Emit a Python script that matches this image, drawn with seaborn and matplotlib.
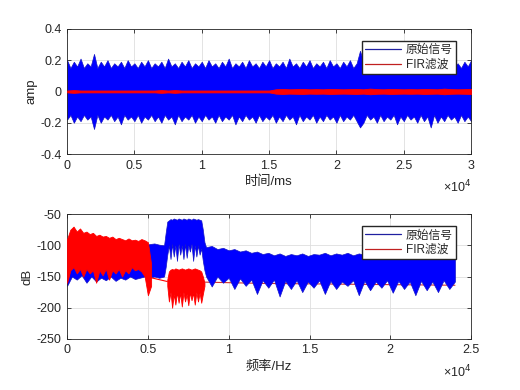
import numpy as np
import matplotlib
matplotlib.use('Agg')
import matplotlib.pyplot as plt
import seaborn as sns
from matplotlib.lines import Line2D
from matplotlib.ticker import FuncFormatter

sns.set_style('ticks')
plt.rcParams['font.family'] = ['Liberation Sans', 'Noto Sans CJK SC', 'DejaVu Sans']
plt.rcParams['axes.unicode_minus'] = False

# ---- 时域：原始信号 / FIR滤波 的包络 (ms, amp) ----
orig_hi = [0.20, 0.15, 0.19, 0.16, 0.21, 0.15, 0.18, 0.16, 0.24, 0.15,
           0.19, 0.16, 0.20, 0.15, 0.18, 0.16, 0.19, 0.15, 0.20, 0.16,
           0.18, 0.15, 0.19, 0.16, 0.20, 0.15, 0.18, 0.16, 0.19, 0.15,
           0.21, 0.16, 0.18, 0.15, 0.19, 0.16, 0.20, 0.15, 0.18, 0.16,
           0.19, 0.15, 0.20, 0.16, 0.18, 0.15, 0.19, 0.16, 0.21, 0.15,
           0.18, 0.16, 0.19, 0.15, 0.20, 0.16, 0.18, 0.15, 0.19, 0.16,
           0.20, 0.15, 0.18, 0.16, 0.19, 0.15, 0.21, 0.16, 0.18, 0.15,
           0.19, 0.16, 0.20, 0.15, 0.18, 0.16, 0.19, 0.15, 0.20, 0.16,
           0.18, 0.15, 0.19, 0.16, 0.20, 0.15, 0.18, 0.26, 0.19, 0.15,
           0.20, 0.16, 0.18, 0.15, 0.19, 0.16, 0.21, 0.15, 0.18, 0.16,
           0.19, 0.15, 0.20, 0.16, 0.18, 0.15, 0.19, 0.16, 0.20, 0.15,
           0.18, 0.16, 0.19, 0.15, 0.21, 0.16, 0.18, 0.15, 0.19, 0.16,
           0.20]
orig_lo = [-0.18, -0.15, -0.20, -0.16, -0.19, -0.15, -0.18, -0.16, -0.24, -0.15,
           -0.20, -0.16, -0.18, -0.15, -0.19, -0.16, -0.21, -0.15, -0.18, -0.16,
           -0.19, -0.15, -0.20, -0.16, -0.18, -0.15, -0.19, -0.16, -0.20, -0.15,
           -0.18, -0.16, -0.21, -0.15, -0.19, -0.16, -0.18, -0.15, -0.20, -0.16,
           -0.19, -0.15, -0.18, -0.16, -0.20, -0.15, -0.19, -0.16, -0.18, -0.15,
           -0.21, -0.16, -0.19, -0.15, -0.18, -0.16, -0.20, -0.15, -0.19, -0.16,
           -0.18, -0.15, -0.20, -0.16, -0.19, -0.15, -0.18, -0.16, -0.21, -0.15,
           -0.19, -0.16, -0.18, -0.15, -0.20, -0.16, -0.19, -0.15, -0.18, -0.16,
           -0.20, -0.15, -0.19, -0.16, -0.18, -0.15, -0.19, -0.23, -0.20, -0.15,
           -0.18, -0.16, -0.20, -0.15, -0.19, -0.16, -0.18, -0.15, -0.21, -0.16,
           -0.19, -0.15, -0.18, -0.16, -0.20, -0.15, -0.19, -0.16, -0.23, -0.15,
           -0.20, -0.16, -0.19, -0.15, -0.18, -0.16, -0.20, -0.15, -0.19, -0.16,
           -0.19]
fir_amp = [0.006, 0.009, 0.006, 0.006, 0.006, 0.006, 0.006, 0.006, 0.006, 0.006, 0.006, 0.006, 0.006,
           0.006, 0.009, 0.006, 0.009, 0.006, 0.006, 0.006, 0.006, 0.006, 0.006, 0.006, 0.006, 0.006,
           0.006, 0.006, 0.006, 0.006, 0.006, 0.014, 0.016, 0.014, 0.015, 0.016, 0.014, 0.015, 0.014,
           0.016, 0.015, 0.014, 0.015, 0.016, 0.014, 0.018, 0.015, 0.014, 0.016, 0.015, 0.014, 0.015,
           0.014, 0.016, 0.015, 0.014, 0.018, 0.015, 0.014, 0.015, 0.016]
t_max = 30000

# ---- 频域 (Hz, dB) ----
# 原始信号, 三段
blue1_hi = [-95, -100, -98, -101, -99, -100, -102, -100, -101, -99, -100, -102, -101, -100, -99, -101,
            -100, -98, -97, -99, -100]
blue1_lo = [-165, -150, -155, -148, -160, -150, -158, -152, -156, -150, -157, -152, -155, -150, -154,
            -152, -150, -152, -150, -152, -150]
blue2_hi = [-100, -80, -62, -60, -58, -59, -57, -58, -59, -57, -58, -59, -57, -58, -59, -57, -58, -59,
            -57, -58, -59, -58, -59, -60, -75, -95, -103]
blue2_lo = [-148, -135, -115, -100, -122, -98, -118, -100, -125, -98, -115, -100, -122, -98, -120, -100,
            -110, -98, -125, -100, -118, -100, -115, -105, -125, -140, -150]
blue3_hi = [-103, -101, -106, -104, -108, -106, -110, -108, -112, -110, -114, -112, -116, -113, -117,
            -114, -116, -113, -117, -114, -115, -112, -116, -113, -115, -112, -116, -113, -115, -112,
            -116, -114, -117, -114, -116, -113, -117, -115, -118, -115, -117, -114, -118, -115, -117]
blue3_lo = [-150, -166, -150, -160, -152, -170, -153, -165, -155, -178, -156, -168, -155, -182, -157,
            -170, -156, -175, -158, -168, -156, -178, -157, -170, -158, -165, -156, -180, -157, -172,
            -158, -168, -156, -176, -157, -170, -158, -180, -157, -172, -158, -175, -156, -170, -158]
seg_edges = [0, 6000, 8600, 24000]
# FIR滤波, 四段
red1_hi = [-90, -75, -70, -78, -73, -80, -78, -82, -80, -85, -83, -86, -85, -88, -86, -90, -88, -90,
           -92, -89, -92, -91, -93, -90, -92, -95, -130]
red1_lo = [-160, -140, -135, -145, -138, -150, -138, -145, -140, -160, -140, -148, -138, -155, -140,
           -145, -138, -150, -140, -145, -135, -140, -138, -142, -150, -180, -165]
red_gap_f = [5200, 6200]
red_gap_db = [-152, -158]
red2_hi = [-155, -142, -139, -138, -139, -137, -138, -139, -138, -137, -138, -139, -138, -137, -138,
           -139, -138, -137, -138, -139, -140, -142, -150, -160]
red2_lo = [-165, -190, -175, -200, -178, -195, -175, -192, -176, -198, -175, -190, -178, -196, -175,
           -188, -176, -195, -175, -190, -176, -192, -178, -165]
red_tail_f = [8500, 12000, 16000, 20000, 24000]
red_tail_db = [-159, -161, -162, -163, -164]

fig = plt.figure(figsize=(5.2, 3.9), dpi=100)
ax1 = fig.add_axes([0.129, 0.605, 0.777, 0.321])
ax2 = fig.add_axes([0.129, 0.131, 0.777, 0.320])

# 时域
t = np.linspace(0, t_max, len(orig_hi))
ax1.fill_between(t, orig_lo, orig_hi, color='blue', lw=0.5, edgecolor='#1515c8', zorder=2)
tf = np.linspace(0, t_max, len(fir_amp))
fir = np.array(fir_amp)
ax1.fill_between(tf, -fir, fir, color='red', lw=0.6, zorder=3)

# 频域
f1 = np.linspace(seg_edges[0], seg_edges[1], len(blue1_hi))
f2 = np.linspace(seg_edges[1], seg_edges[2], len(blue2_hi))
f3 = np.linspace(seg_edges[2], seg_edges[3], len(blue3_hi))
bf = np.concatenate([f1, f2[1:], f3[1:]])
bhi = np.concatenate([blue1_hi, blue2_hi[1:], blue3_hi[1:]])
blo = np.concatenate([blue1_lo, blue2_lo[1:], blue3_lo[1:]])
ax2.fill_between(bf, blo, bhi, color='blue', lw=0.5, edgecolor='#1515c8', zorder=2)

rf1 = np.linspace(0, 5200, len(red1_hi))
ax2.fill_between(rf1, red1_lo, red1_hi, color='red', lw=0.6, zorder=3)
rf2 = np.linspace(6200, 8500, len(red2_hi))
ax2.fill_between(rf2, red2_lo, red2_hi, color='red', lw=0.6, zorder=3)
sns.lineplot(x=red_gap_f, y=red_gap_db, ax=ax2, color='red', lw=0.8, zorder=3)
sns.lineplot(x=red_tail_f, y=red_tail_db, ax=ax2, color='#d03030', lw=0.8, zorder=1.5)

handles = [Line2D([], [], color='#2020a0', lw=0.9), Line2D([], [], color='#c02020', lw=0.9)]
labels = ['原始信号', 'FIR滤波']

fmt = FuncFormatter(lambda v, p: ('%g' % (v / 1e4)))
for ax, xmax, xt, yl, yt in [(ax1, 30000, np.arange(0, 30001, 5000), (-0.4, 0.4), [-0.4, -0.2, 0, 0.2, 0.4]),
                             (ax2, 25000, np.arange(0, 25001, 5000), (-250, -50), [-250, -200, -150, -100, -50])]:
    ax.set_xlim(0, xmax)
    ax.set_ylim(*yl)
    ax.set_xticks(xt)
    ax.set_yticks(yt)
    ax.xaxis.set_major_formatter(fmt)
    ax.yaxis.set_major_formatter(FuncFormatter(lambda v, p: '%g' % v))
    ax.grid(True, color='#dedede', lw=0.6, zorder=0)
    ax.set_axisbelow(True)
    ax.tick_params(direction='in', top=True, right=True, length=3, width=0.6,
                   colors='#262626', labelsize=9, pad=4)
    for s in ax.spines.values():
        s.set_color('#262626')
        s.set_linewidth(0.6)
    ax.annotate('×10$^4$', xy=(1, 0), xycoords='axes fraction', xytext=(0, -33),
                textcoords='offset pixels', ha='right', va='center', fontsize=9, color='#262626')
    ax.legend(handles, labels, loc='upper right', bbox_to_anchor=(0.963, 0.905), fontsize=8.5,
              frameon=True, fancybox=False, edgecolor='#262626', framealpha=1, handlelength=3.0,
              borderpad=0.3, labelspacing=0.2, handletextpad=0.4, borderaxespad=0)

ax1.set_xlabel('时间/ms', fontsize=9.5, labelpad=3)
ax1.set_ylabel('amp', fontsize=9.5, labelpad=2)
ax2.set_xlabel('频率/Hz', fontsize=9.5, labelpad=3)
ax2.set_ylabel('dB', fontsize=9.5, labelpad=2)

fig.savefig('out.png', dpi=100)
